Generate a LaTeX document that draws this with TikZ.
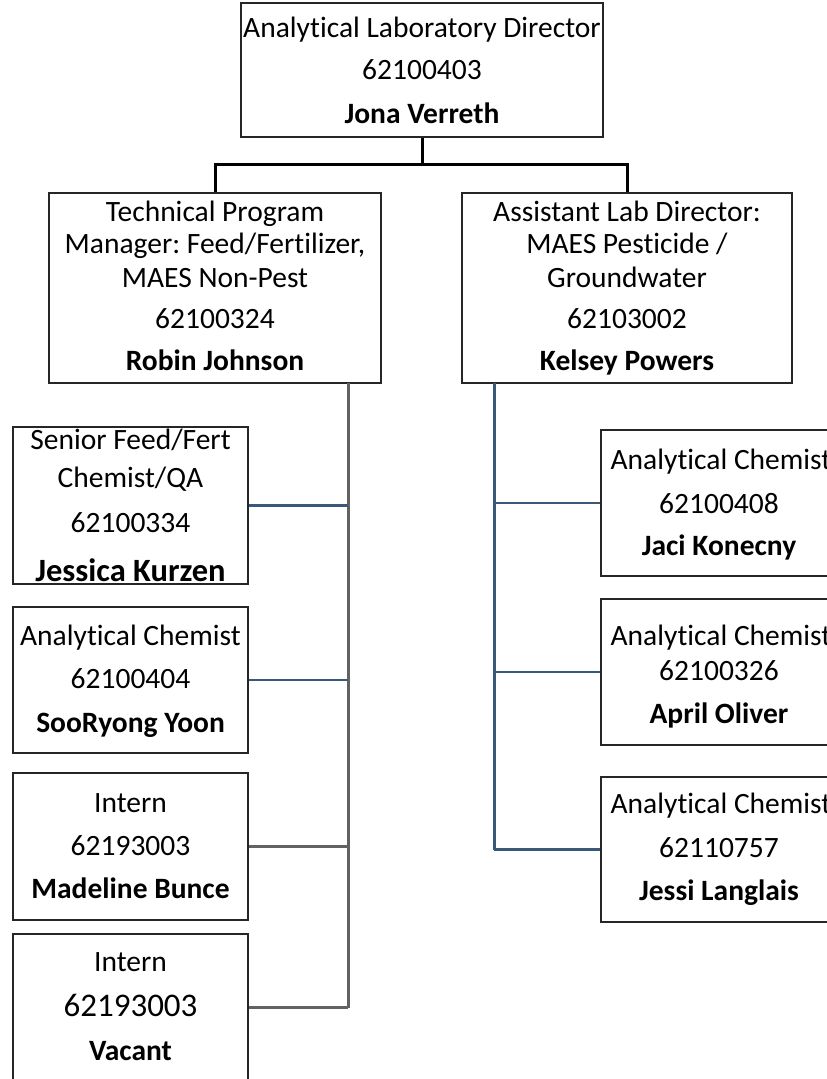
\documentclass[tikz,border=0pt]{standalone}
\usepackage{fontspec}
\setmainfont{Carlito}[RawFeature={-liga;-clig;-calt;-dlig}]
\frenchspacing
\definecolor{linkblue}{RGB}{58,88,122}
\definecolor{linkgray}{RGB}{98,98,98}
\tikzset{
  posbox/.style={draw=black!85, line width=1.4pt, inner sep=0pt},
  role/.style={inner sep=0pt, anchor=base, font=\fontsize{29.5}{30}\selectfont},
  who/.style={role, font=\fontsize{29.5}{30}\selectfont\bfseries},
  trunk/.style={line width=3pt},
  branch/.style={line width=2.4pt},
}
\begin{document}
\begin{tikzpicture}[x=1pt, y=-1pt]
    \useasboundingbox (0,0) rectangle (827,1079);
    \clip (0,0) rectangle (827,1079);
    % top level
    \node[posbox, minimum width=362pt, minimum height=134pt] (dir) at (422,70) {};
    \node[role] (dirT) at (422,37) {Analytical Laboratory Director};
    \node[role] (dirP) at (422,79) {62100403};
    \node[who] (dirN) at (422,123) {Jona Verreth};
    % managers
    \node[posbox, minimum width=332pt, minimum height=190pt] (tpm) at (215,288) {};
    \node[role] (tpmT1) at (215,221) {Technical Program};
    \node[role] (tpmT2) at (215,253) {Manager: Feed/Fertilizer,};
    \node[role] (tpmT3) at (215,287) {MAES Non-Pest};
    \node[role] (tpmP) at (215,328) {62100324};
    \node[who] (tpmN) at (215,370) {Robin Johnson};
    \node[posbox, minimum width=330pt, minimum height=190pt] (ald) at (627,288) {};
    \node[role] (aldT1) at (627,221) {Assistant Lab Director:};
    \node[role] (aldT2) at (627,253) {MAES Pesticide /};
    \node[role] (aldT3) at (627,287) {Groundwater};
    \node[role] (aldP) at (627,328) {62103002};
    \node[who] (aldN) at (627,370) {Kelsey Powers};
    % feed / fertilizer staff
    \node[posbox, minimum width=235pt, minimum height=157pt] (jk) at (130.5,505.5) {};
    \node[role] (jkT1) at (130.5,449) {Senior Feed/Fert};
    \node[role] (jkT2) at (130.5,487) {Chemist/QA};
    \node[role] (jkP) at (130.5,532) {62100334};
    \node[who, font=\fontsize{32.5}{33}\selectfont\bfseries] (jkN) at (130.5,581) {Jessica Kurzen};
    \node[posbox, minimum width=235pt, minimum height=146pt] (sy) at (130.5,680) {};
    \node[role] (syT) at (130.5,645) {Analytical Chemist};
    \node[role] (syP) at (130.5,688) {62100404};
    \node[who] (syN) at (130.5,732) {SooRyong Yoon};
    \node[posbox, minimum width=235pt, minimum height=147pt] (mb) at (130.5,846.5) {};
    \node[role] (mbT) at (130.5,812) {Intern};
    \node[role] (mbP) at (130.5,855) {62193003};
    \node[who] (mbN) at (130.5,898) {Madeline Bunce};
    \node[posbox, minimum width=235pt, minimum height=147pt] (vc) at (130.5,1007.5) {};
    \node[role] (vcT) at (130.5,971) {Intern};
    \node[role, font=\fontsize{33}{33}\selectfont] (vcP) at (130.5,1016) {62193003};
    \node[who] (vcN) at (130.5,1060) {Vacant};
    % pesticide / groundwater staff
    \node[posbox, minimum width=236pt, minimum height=146pt] (jak) at (719,503) {};
    \node[role] (jakT) at (721,469) {Analytical Chemist};
    \node[role] (jakP) at (719,513) {62100408};
    \node[who] (jakN) at (719,555) {Jaci Konecny};
    \node[posbox, minimum width=236pt, minimum height=146pt] (ao) at (719,672) {};
    \node[role] (aoT) at (721,645) {Analytical Chemist};
    \node[role] (aoP) at (719,680) {62100326};
    \node[who] (aoN) at (719,723) {April Oliver};
    \node[posbox, minimum width=236pt, minimum height=145pt] (jl) at (719,849.5) {};
    \node[role] (jlT) at (721,813) {Analytical Chemist};
    \node[role] (jlP) at (719,857) {62110757};
    \node[who] (jlN) at (719,900) {Jessi Langlais};
    % connectors
    \coordinate (split) at (422,164);
    \draw[trunk] (dir.south) -- (split);
    \draw[trunk] (tpm.north) |- (split) -| (ald.north);
    \coordinate (lbus) at (348,383);
    \draw[trunk, linkgray] (lbus) -- (lbus |- vc.east);
    \draw[branch, linkblue] (jk.east) -- (jk.east -| lbus);
    \draw[branch, linkblue] (sy.east) -- (sy.east -| lbus);
    \draw[branch, linkgray] (mb.east) -- (mb.east -| lbus);
    \draw[branch, linkgray] (vc.east) -- (vc.east -| lbus);
    \coordinate (rbus) at (494,383);
    \draw[trunk, linkblue] (rbus) -- (rbus |- jl.west);
    \draw[branch, linkblue] (jak.west) -- (jak.west -| rbus);
    \draw[branch, linkblue] (ao.west) -- (ao.west -| rbus);
    \draw[branch, linkblue] (jl.west) -- (jl.west -| rbus);
\end{tikzpicture}
\end{document}
